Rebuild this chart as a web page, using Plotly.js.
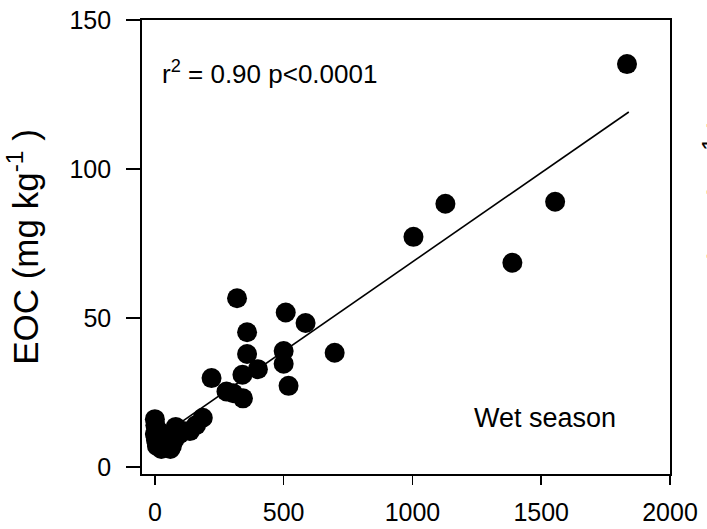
<!DOCTYPE html>
<html>
<head>
<meta charset="utf-8">
<script src="https://cdn.plot.ly/plotly-3.0.1.min.js"></script>
<style>html,body{margin:0;padding:0;background:#fff;}#chart{width:707px;height:529px;}</style>
</head>
<body>
<div id="chart"></div>
<script>
// Observed points (x, EOC in mg/kg), wet season
const xValues = [0, 2, 0, 4, 8, 15, 25, 35, 50, 60, 66, 75, 81, 95, 110, 136, 160, 186, 220, 278, 304, 319, 340, 342, 358, 358, 400, 500, 500, 508, 519, 585, 698, 1004, 1128, 1388, 1554, 1833];
const eocValues = [16, 14, 11, 9, 7, 12, 6, 8, 10, 6, 7, 9, 13.4, 11, 12, 12, 14, 16.5, 29.8, 25.3, 24.7, 56.6, 30.9, 23.0, 45.2, 37.9, 32.8, 38.9, 34.6, 51.8, 27.2, 48.3, 38.3, 77.2, 88.3, 68.5, 89.0, 135.2];

// Regression line (as drawn in the figure)
const fitIntercept = 8.9;
const fitSlope = 0.0599;
const fitX = [0, 1840];
const fitY = fitX.map(v => fitIntercept + fitSlope * v);

const xTicks = [0, 500, 1000, 1500, 2000];
const yTicks = [0, 50, 100, 150];

const font = 'Liberation Sans, Arial, sans-serif';

const traces = [
  {
    x: fitX, y: fitY, type: 'scatter', mode: 'lines',
    line: {color: '#000', width: 1.6}, hoverinfo: 'skip', showlegend: false
  },
  {
    x: xValues, y: eocValues, type: 'scatter', mode: 'markers',
    marker: {color: '#000', size: 20, line: {width: 0}}, showlegend: false,
    cliponaxis: false
  }
];

const layout = {
  width: 707, height: 529,
  margin: {l: 142, r: 37, t: 20, b: 55},
  paper_bgcolor: '#fff', plot_bgcolor: '#fff',
  font: {family: font, color: '#000', size: 25},
  showlegend: false,
  xaxis: {
    range: [-50, 2000], tickvals: xTicks, ticktext: xTicks.map(String),
    showgrid: false, zeroline: false, showline: true, mirror: true,
    linecolor: '#000', linewidth: 1.8, ticks: 'outside', ticklen: 9, tickwidth: 1.6, tickcolor: '#000',
    tickfont: {family: font, size: 25, color: '#000'}, ticklabelstandoff: 6
  },
  yaxis: {
    range: [-2.4, 150], tickvals: yTicks, ticktext: yTicks.map(String),
    showgrid: false, zeroline: false, showline: true, mirror: true,
    linecolor: '#000', linewidth: 1.8, ticks: 'outside', ticklen: 14, tickwidth: 1.6, tickcolor: '#000',
    tickfont: {family: font, size: 25, color: '#000'}, ticklabelstandoff: 10,
    title: {text: 'EOC (mg kg<sup>-1</sup> )', font: {family: font, size: 35, color: '#000'}, standoff: 20}
  },
  annotations: [
    {
      xref: 'paper', yref: 'paper', x: 0.034, y: 0.885, xanchor: 'left', yanchor: 'middle',
      text: 'r<sup>2</sup> = 0.90 p&lt;0.0001', showarrow: false,
      font: {family: font, size: 26, color: '#000'}
    },
    {
      xref: 'paper', yref: 'paper', x: 0.625, y: 0.123, xanchor: 'left', yanchor: 'middle',
      text: 'Wet season', showarrow: false,
      font: {family: font, size: 27, color: '#000'}
    },
    {
      xref: 'paper', yref: 'paper', x: 1.093, y: 0.53, xanchor: 'center', yanchor: 'middle',
      text: 'EOC (mg kg<sup>-1</sup> )', textangle: -90, showarrow: false,
      font: {family: font, size: 35, color: '#000'}
    }
  ]
};

Plotly.newPlot('chart', traces, layout, {displayModeBar: false, staticPlot: true});
</script>
</body>
</html>
